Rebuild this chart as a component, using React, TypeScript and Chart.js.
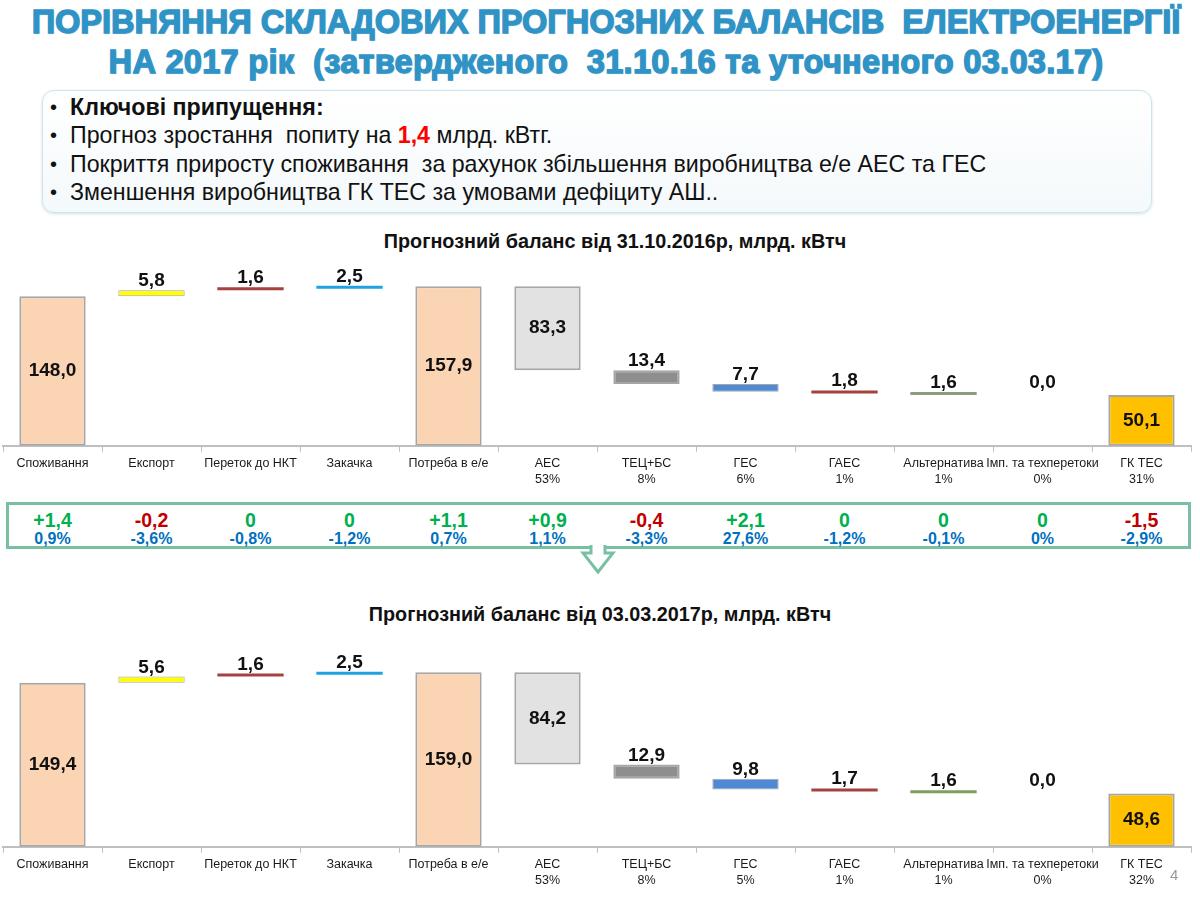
import React, { useEffect, useRef } from 'react';
import { Chart, registerables } from 'chart.js';

Chart.register(...registerables);

// ---------- data ----------
const categoryNames = [
  'Споживання', 'Експорт', 'Переток до НКТ', 'Закачка', 'Потреба в е/е', 'АЕС',
  'ТЕЦ+БС', 'ГЕС', 'ГАЕС', 'Альтернатива', 'Імп. та техперетоки', 'ГК ТЕС',
];
const stepKinds = ['total', 'up', 'up', 'up', 'total', 'down', 'down', 'down', 'down', 'down', 'down', 'total'];
const shares2016 = ['', '', '', '', '', '53%', '8%', '6%', '1%', '1%', '0%', '31%'];
const shares2017 = ['', '', '', '', '', '53%', '8%', '5%', '1%', '1%', '0%', '32%'];
const values2016 = [148.0, 5.8, 1.6, 2.5, 157.9, 83.3, 13.4, 7.7, 1.8, 1.6, 0.0, 50.1];
const values2017 = [149.4, 5.6, 1.6, 2.5, 159.0, 84.2, 12.9, 9.8, 1.7, 1.6, 0.0, 48.6];
const deltaValues = [1.4, -0.2, 0, 0, 1.1, 0.9, -0.4, 2.1, 0, 0, 0, -1.5];
const deltaPercents = [0.9, -3.6, -0.8, -1.2, 0.7, 1.1, -3.3, 27.6, -1.2, -0.1, 0, -2.9];
const barColors2016 = ['#FBD4B4', '#FFFF00', '#A5423F', '#1CA3E0', '#FBD4B4', '#E2E2E2', '#8E8E8E', '#4F88D3', '#A5423F', '#8C9C7E', 'rgba(0,0,0,0)', '#FFC000'];
const barColors2017 = ['#FBD4B4', '#FFFF00', '#A5423F', '#1CA3E0', '#FBD4B4', '#E2E2E2', '#8E8E8E', '#4F88D3', '#A5423F', '#7F9F5E', 'rgba(0,0,0,0)', '#FFC000'];

const chartTitle2016 = 'Прогнозний баланс від 31.10.2016р, млрд. кВтч';
const chartTitle2017 = 'Прогнозний баланс від 03.03.2017р, млрд. кВтч';

const FONT = '"Liberation Sans", Arial, sans-serif';

function toRanges(values: number[]): [number, number][] {
  let run = 0;
  return values.map((v, i) => {
    const k = stepKinds[i];
    if (k === 'total') { run = v; return [0, v] as [number, number]; }
    if (k === 'up') { const r: [number, number] = [run, run + v]; run += v; return r; }
    const r: [number, number] = [run - v, run]; run -= v; return r;
  });
}

const fmt = (v: number) => v.toFixed(1).replace('.', ',');

const labelPlugin = {
  id: 'wfLabels',
  afterDatasetsDraw(chart: any, _args: any, opts: any) {
    const ctx = chart.ctx;
    const meta = chart.getDatasetMeta(0);
    const vals: number[] = opts.values || [];
    ctx.save();
    ctx.font = `bold 19px ${FONT}`;
    ctx.fillStyle = '#111111';
    ctx.textAlign = 'center';
    meta.data.forEach((bar: any, i: number) => {
      const p = bar.getProps(['x', 'y', 'base'], true);
      const top = Math.min(p.y, p.base);
      const bottom = Math.max(p.y, p.base);
      const h = bottom - top;
      const text = fmt(vals[i]);
      if (h > 40) {
        ctx.textBaseline = 'middle';
        ctx.fillText(text, p.x, (top + bottom) / 2);
      } else {
        ctx.textBaseline = 'alphabetic';
        ctx.fillText(text, p.x, top - 4);
      }
    });
    ctx.restore();
  },
};

function Waterfall(props: { values: number[]; shares: string[]; colors: string[]; yMax: number; top: number; height: number; padBottom: number }) {
  const ref = useRef<HTMLCanvasElement | null>(null);
  useEffect(() => {
    if (!ref.current) return;
    const labels = categoryNames.map((n, i) => (props.shares[i] ? [n, props.shares[i]] : [n]));
    const chart = new Chart(ref.current, {
      type: 'bar',
      data: {
        labels,
        datasets: [
          {
            data: toRanges(props.values) as any,
            backgroundColor: props.colors,
            borderColor: props.values.map((v) => (v === 0 ? 'rgba(0,0,0,0)' : '#A6A6A6')),
            borderWidth: props.values.map((v) => (v >= 10 ? 2 : v >= 3 ? 1 : 0)),
            borderSkipped: false,
            barPercentage: 0.67,
            categoryPercentage: 1,
            minBarLength: 3,
          } as any,
        ],
      },
      options: {
        animation: false,
        responsive: false,
        maintainAspectRatio: false,
        layout: { padding: { left: 3, right: 9, top: 0, bottom: props.padBottom } },
        plugins: {
          legend: { display: false },
          tooltip: { enabled: false },
          title: { display: false },
          wfLabels: { values: props.values },
        } as any,
        scales: {
          x: {
            grid: { display: true, drawOnChartArea: false, drawTicks: true, tickLength: 6, color: '#BFBFBF', offset: true },
            border: { display: true, color: '#BFBFBF', width: 2 },
            ticks: {
              autoSkip: false, maxRotation: 0, minRotation: 0, padding: 4, color: '#1a1a1a',
              font: { family: FONT, size: 12.5, lineHeight: 1.25 },
            },
          },
          y: { display: false, min: 0, max: props.yMax },
        },
      },
      plugins: [labelPlugin],
    });
    return () => chart.destroy();
  }, []);
  return (
    <canvas
      ref={ref}
      width={1200}
      height={props.height}
      style={{ position: 'absolute', left: 0, top: props.top, width: 1200, height: props.height }}
    />
  );
}

const fmtDelta = (v: number) => (v === 0 ? '0' : (v > 0 ? '+' : '') + fmt(v));
const fmtPct = (v: number) => (v === 0 ? '0%' : String(v).replace('.', ',') + '%');

export default function App() {
  const titleStyle: React.CSSProperties = {
    position: 'absolute', left: 0, width: 1200, textAlign: 'center', whiteSpace: 'pre',
    fontFamily: FONT, fontWeight: 900, fontSize: 32.5, color: '#2F93C6',
    WebkitTextStroke: '1.3px #2F93C6', textShadow: '1px 1px 1px #A8D0E4', lineHeight: '36px',
  } as any;
  const bulletLine: React.CSSProperties = { display: 'flex', height: 28.5, alignItems: 'center', whiteSpace: 'pre' };
  return (
    <div style={{ position: 'absolute', left: 0, top: 0, width: 1200, height: 900, background: '#ffffff', overflow: 'hidden' }}>
      <div style={{ ...titleStyle, top: 4, left: 6 }}>ПОРІВНЯННЯ СКЛАДОВИХ ПРОГНОЗНИХ БАЛАНСІВ  ЕЛЕКТРОЕНЕРГІЇ</div>
      <div style={{ ...titleStyle, top: 44, left: 6, letterSpacing: 0.3 }}>НА 2017 рік  (затвердженого  31.10.16 та уточненого 03.03.17)</div>

      <div
        style={{
          position: 'absolute', left: 42, top: 90, width: 1110, height: 123, borderRadius: 12,
          border: '1px solid #CFE3EC', background: 'linear-gradient(#ffffff, #f4f9fb)',
          boxShadow: '0 1px 3px rgba(120,170,195,0.35)', fontFamily: FONT, fontSize: 23.2, color: '#111',
          paddingTop: 2, boxSizing: 'border-box',
        }}
      >
        {[
          <b key="a">Ключові припущення:</b>,
          <span key="b">Прогноз зростання  попиту на <b style={{ color: '#FF0000' }}>1,4</b> млрд. кВтг.</span>,
          <span key="c">Покриття приросту споживання  за рахунок збільшення виробництва е/е АЕС та ГЕС</span>,
          <span key="d">Зменшення виробництва ГК ТЕС за умовами дефіциту АШ..</span>,
        ].map((c, i) => (
          <div key={i} style={bulletLine}>
            <span style={{ width: 27, paddingLeft: 7, boxSizing: 'border-box', flex: '0 0 auto', fontSize: 20 }}>•</span>
            {c}
          </div>
        ))}
      </div>

      <div style={{ position: 'absolute', left: 0, top: 230, width: 1230, textAlign: 'center', fontFamily: FONT, fontWeight: 700, fontSize: 19.8, color: '#111' }}>
        {chartTitle2016}
      </div>
      <Waterfall values={values2016} shares={shares2016} colors={barColors2016} yMax={178.8} top={265} height={226} padBottom={0} />

      <div style={{ position: 'absolute', left: 6, top: 502, width: 1185, height: 47, border: '3px solid #79C0A3', boxSizing: 'border-box' }} />
      <svg style={{ position: 'absolute', left: 580, top: 545 }} width={36} height={32}>
        <polygon points="11,0 25,0 25,8 33,8 18,27 3,8 11,8" fill="#ffffff" />
        <polyline points="11,0 11,8 3,8 18,27 33,8 25,8 25,0" fill="none" stroke="#79C0A3" strokeWidth={3} strokeLinejoin="miter" />
      </svg>
      {deltaValues.map((v, i) => (
        <div
          key={'d' + i}
          style={{
            position: 'absolute', left: 3 + i * 99, top: 509, width: 99, textAlign: 'center',
            fontFamily: FONT, fontWeight: 700, fontSize: 19.5, lineHeight: '22px',
            color: v < 0 ? '#C00000' : '#00B050',
          }}
        >
          {fmtDelta(v)}
        </div>
      ))}
      {deltaPercents.map((v, i) => (
        <div
          key={'p' + i}
          style={{
            position: 'absolute', left: 3 + i * 99, top: 529, width: 99, textAlign: 'center',
            fontFamily: FONT, fontWeight: 700, fontSize: 16, lineHeight: '20px', color: '#0070C0',
          }}
        >
          {fmtPct(v)}
        </div>
      ))}

      <div style={{ position: 'absolute', left: 0, top: 603, width: 1200, textAlign: 'center', fontFamily: FONT, fontWeight: 700, fontSize: 19.8, color: '#111' }}>
        {chartTitle2017}
      </div>
      <Waterfall values={values2017} shares={shares2017} colors={barColors2017} yMax={188.3} top={640} height={252} padBottom={0} />

      <div style={{ position: 'absolute', left: 1170, top: 866, fontFamily: FONT, fontSize: 15, color: '#999' }}>4</div>
    </div>
  );
}
